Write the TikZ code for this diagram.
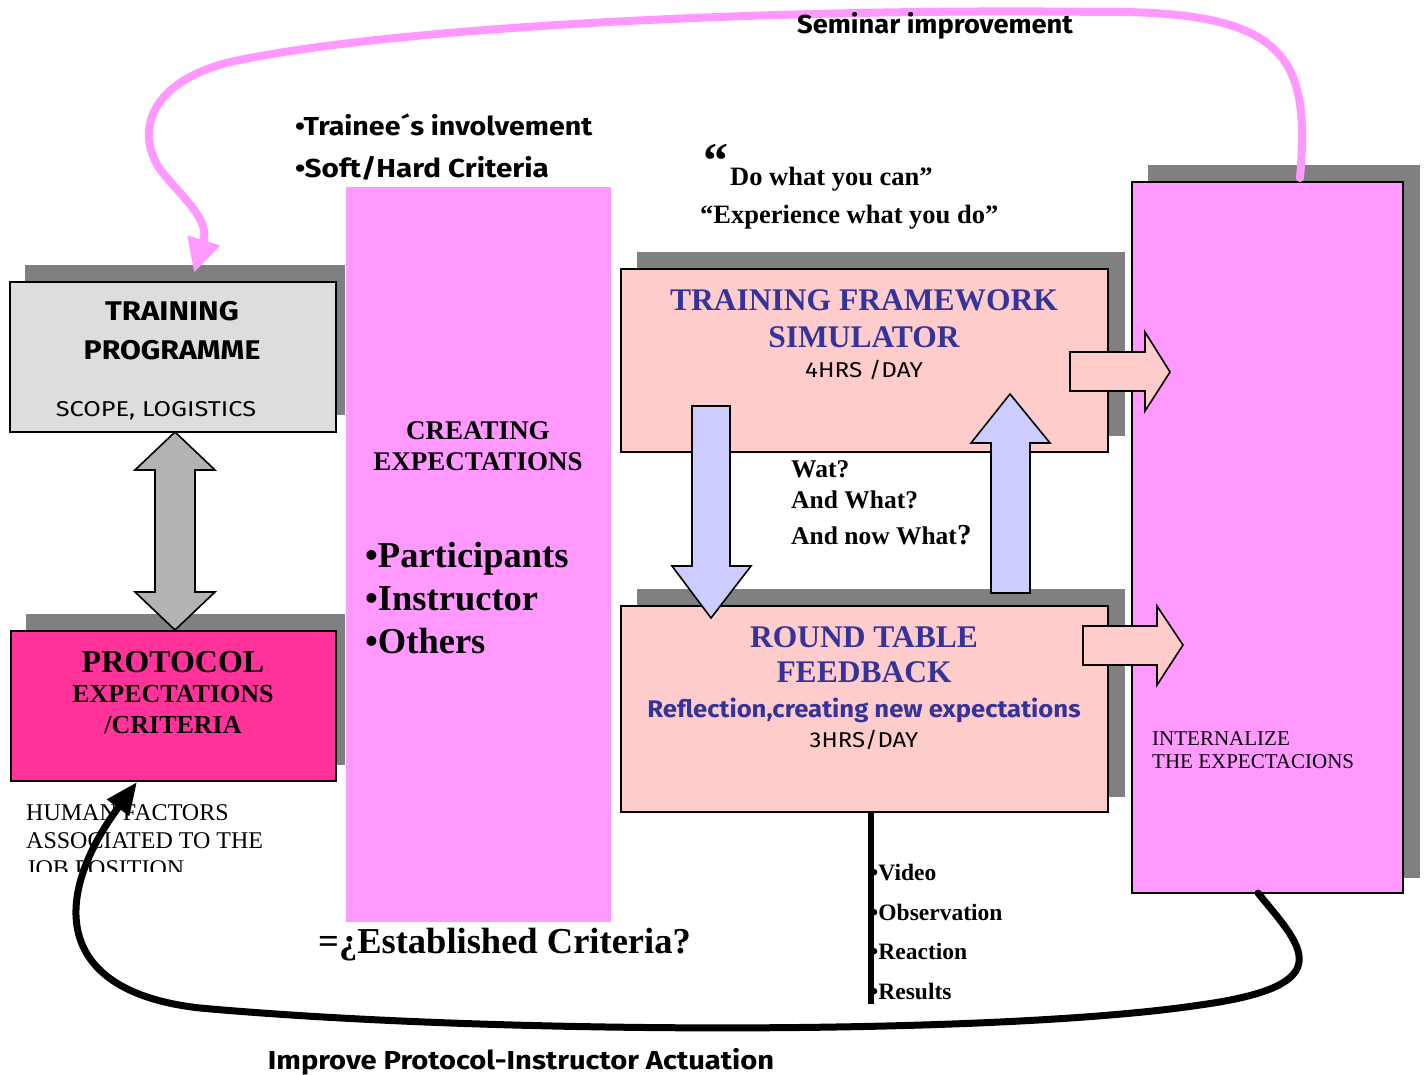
\documentclass[tikz,border=0pt]{standalone}
\usepackage{fontspec}
\setmainfont{Liberation Serif}
\newfontfamily\comic{Fira Sans}
\usetikzlibrary{arrows.meta}
\definecolor{shadowgray}{HTML}{808080}
\definecolor{boxgray}{HTML}{DDDDDD}
\definecolor{hotpink}{HTML}{FF3399}
\definecolor{lilac}{HTML}{FF99FF}
\definecolor{salmon}{HTML}{FFCCCC}
\definecolor{navy}{HTML}{333399}
\definecolor{bluearrow}{HTML}{CCCCFF}
\definecolor{grayarrow}{HTML}{B3B3B3}
\newcommand{\fsz}[1]{\fontsize{#1}{#1}\selectfont}
\newcommand{\cx}[2]{\scalebox{#1}[1]{#2}}
\begin{document}
\begin{tikzpicture}[x=1pt,y=-1pt,
  shadowbox/.style={fill=shadowgray, draw=none, anchor=north west, inner sep=0pt, outer sep=0pt},
  mainbox/.style={draw=black, line width=1.8pt, anchor=north west, inner sep=0pt, outer sep=0pt},
  txt/.style={inner sep=0pt, anchor=base},
  txtl/.style={inner sep=0pt, anchor=base west},
  blockarrow/.style={draw=black, line width=1.6pt, line join=miter},
  pinkline/.style={draw=lilac, line width=8pt, line cap=round, -{Triangle[length=34pt,width=32pt]}},
  blackline/.style={draw=black, line width=7pt, line cap=round, -{Triangle[length=32pt,width=26pt]}}
]
\useasboundingbox[fill=white] (0,0) rectangle (1426,1075);

% shadows
\node[shadowbox, minimum width=320pt, minimum height=150pt] (tpsh) at (25,265) {};
\node[shadowbox, minimum width=319pt, minimum height=151pt] (prsh) at (26,614) {};
\node[shadowbox, minimum width=488pt, minimum height=184pt] (tfsh) at (637,252) {};
\node[shadowbox, minimum width=488pt, minimum height=208pt] (rtsh) at (637,589) {};
\node[shadowbox, minimum width=272pt, minimum height=713pt] (ibsh) at (1148,165) {};

% pink column
\node[fill=lilac, draw=none, anchor=north west, inner sep=0pt, minimum width=265pt, minimum height=735pt] (col) at (346,187) {};

% main boxes
\node[mainbox, fill=boxgray, minimum width=326pt, minimum height=150pt] (tp) at (10,282) {};
\node[mainbox, fill=hotpink, minimum width=325pt, minimum height=150pt] (pr) at (11,631) {};
\node[mainbox, fill=salmon, minimum width=487pt, minimum height=183pt] (tf) at (621,269) {};
\node[mainbox, fill=salmon, minimum width=487pt, minimum height=206pt] (rt) at (621,606) {};
\node[mainbox, fill=lilac, minimum width=271pt, minimum height=711pt] (ib) at (1132,182) {};

% gray double arrow
\draw[blockarrow, fill=grayarrow] (175,432) -- (215,470) -- (195,470) -- (195,592) -- (215,592) -- (175,630) -- (135,592) -- (155,592) -- (155,470) -- (135,470) -- cycle;

% blue arrows
\draw[blockarrow, fill=bluearrow] (692,406) -- (730,406) -- (730,566) -- (751,566) -- (711,618) -- (672,566) -- (692,566) -- cycle;
\draw[blockarrow, fill=bluearrow] (1010,394) -- (1050,443) -- (1030,443) -- (1030,593) -- (991,593) -- (991,443) -- (971,443) -- cycle;

% right arrows
\draw[blockarrow, fill=salmon] (1070,352) -- (1145,352) -- (1145,332) -- (1170,372) -- (1145,411) -- (1145,391) -- (1070,391) -- cycle;
\draw[blockarrow, fill=salmon] (1083,626) -- (1157,626) -- (1157,606) -- (1183,645) -- (1157,685) -- (1157,665) -- (1083,665) -- cycle;

% texts: training programme
\node[txt, font=\comic\bfseries\fsz{27}] (tp1) at (172,320) {\cx{1.15}{TRAINING}};
\node[txt, font=\comic\bfseries\fsz{27}] (tp2) at (172,359) {\cx{1.12}{PROGRAMME}};
\node[txt, font=\comic\fsz{21.5}] (tp3) at (156,416) {\cx{1.18}{SCOPE, LOGISTICS}};

% protocol
\node[txt, font=\bfseries\fsz{32}] (pr1) at (173,672) {PROTOCOL};
\node[txt, font=\bfseries\fsz{26}] (pr2) at (173,702) {EXPECTATIONS};
\node[txt, font=\bfseries\fsz{26}] (pr3) at (173,733) {/CRITERIA};

% human factors (clipped)
\begin{scope}
\clip (0,790) rectangle (340,871);
\node[txtl, font=\fsz{24}] (hf1) at (26,820) {HUMAN FACTORS};
\node[txtl, font=\fsz{24}] (hf2) at (26,848) {ASSOCIATED TO THE};
\node[txtl, font=\fsz{24}] (hf3) at (26,876) {JOB POSITION};
\end{scope}

% creating expectations
\node[txt, font=\bfseries\fsz{27}] (ce1) at (478,439) {CREATING};
\node[txt, font=\bfseries\fsz{27}] (ce2) at (478,470) {EXPECTATIONS};
\node[txtl, font=\bfseries\fsz{36.5}] (b1) at (365,567) {•Participants};
\node[txtl, font=\bfseries\fsz{36.5}] (b2) at (365,610) {•Instructor};
\node[txtl, font=\bfseries\fsz{36.5}] (b3) at (365,653) {•Others};

% trainee
\node[txtl, font=\comic\bfseries\fsz{26}] (tr1) at (295,136) {\cx{1.1}{•Trainee´s involvement}};
\node[txtl, font=\comic\bfseries\fsz{26}] (tr2) at (295,178) {\cx{1.14}{•Soft/Hard Criteria}};

% quotes
\node[txt, font=\bfseries\fsz{50}] (q0) at (716,178) {“};
\node[txtl, font=\bfseries\fsz{26.5}] (q1) at (730,186) {Do what you can”};
\node[txtl, font=\bfseries\fsz{26.5}] (q2) at (700,224) {“Experience what you do”};

% training framework
\node[txt, font=\bfseries\fsz{31.5}, text=navy] (tf1) at (864,310) {TRAINING FRAMEWORK};
\node[txt, font=\bfseries\fsz{31.5}, text=navy] (tf2) at (864,347) {SIMULATOR};
\node[txt, font=\comic\fsz{21.5}] (tf3) at (864,377) {\cx{1.13}{4HRS /DAY}};

% wat
\node[txtl, font=\bfseries\fsz{25.5}] (w1) at (791,477) {Wat?};
\node[txtl, font=\bfseries\fsz{25.5}] (w2) at (791,508) {And What?};
\node[txtl, font=\bfseries\fsz{25.5}] (w3) at (791,544) {And now What\fsz{29}?};

% round table
\node[txt, font=\bfseries\fsz{31.5}, text=navy] (rt1) at (864,647) {ROUND TABLE};
\node[txt, font=\bfseries\fsz{31.5}, text=navy] (rt2) at (864,682) {FEEDBACK};
\node[txt, font=\comic\bfseries\fsz{24}, text=navy] (rt3) at (864,717) {\cx{1.07}{Reflection,creating new expectations}};
\node[txt, font=\comic\fsz{21.5}] (rt4) at (864,747) {\cx{1.11}{3HRS/DAY}};

% internalize
\node[txtl, font=\fsz{21}] (in1) at (1152,745) {INTERNALIZE};
\node[txtl, font=\fsz{21}] (in2) at (1152,768) {THE EXPECTACIONS};

% vertical line and list
\coordinate (vl) at (871,1004);
\draw[line width=6pt] (rt.south -| vl) -- (vl);
\node[txtl, font=\bfseries\fsz{23.5}] (v1) at (870,880) {•Video};
\node[txtl, font=\bfseries\fsz{23.5}] (v2) at (870,920) {•Observation};
\node[txtl, font=\bfseries\fsz{23.5}] (v3) at (870,959) {•Reaction};
\node[txtl, font=\bfseries\fsz{23.5}] (v4) at (870,999) {•Results};

% established
\node[txtl, font=\bfseries\fsz{36.5}] (ec) at (318,953) {=¿Established Criteria?};

% curves
\coordinate (semstart) at (1300,178);
\coordinate (semend) at (194,273);
\draw[pinkline] (semstart) .. controls (1310,60) and (1290,10) .. (1100,12) .. controls (800,8) and (400,25) .. (230,62) .. controls (140,85) and (138,140) .. (162,172) .. controls (185,200) and (210,220) .. (semend);

\coordinate (impstart) at (1258,893);
\coordinate (impend) at (137,782);
\draw[blackline] (impstart) .. controls (1300,945) and (1345,985) .. (1200,1005) .. controls (1000,1035) and (500,1035) .. (200,1008) .. controls (55,992) and (50,900) .. (impend);

\node[txtl, font=\comic\bfseries\fsz{26}] (sem) at (797,34) {\cx{1.05}{Seminar improvement}};
\node[txt, font=\comic\bfseries\fsz{26}] (imp) at (521,1069) {\cx{1.12}{Improve Protocol-Instructor Actuation}};
\end{tikzpicture}
\end{document}
